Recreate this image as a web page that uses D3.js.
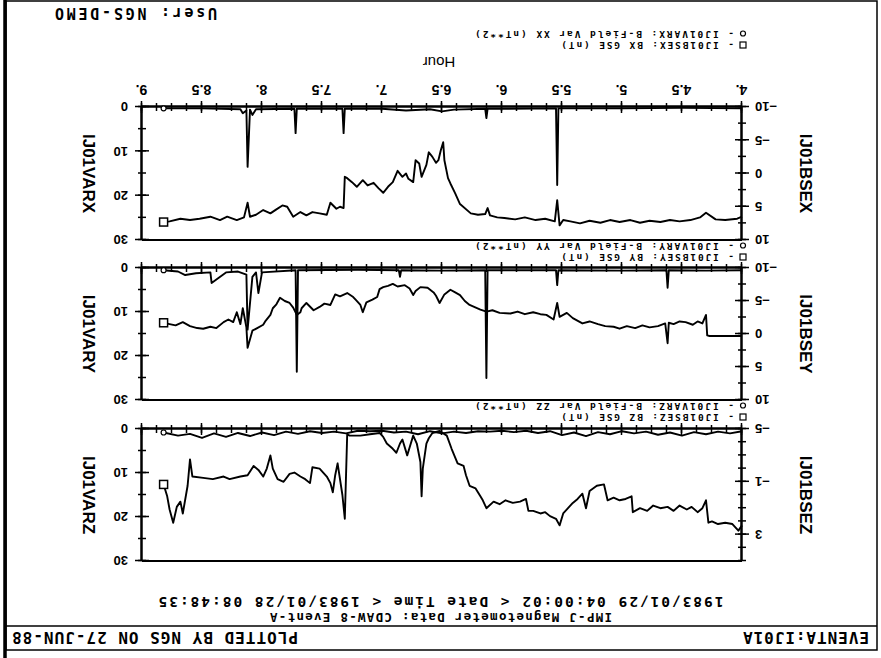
<!DOCTYPE html>
<meta charset="utf-8">
<style>
body { margin: 0; background: #fff; }
.domain { stroke: #000; stroke-width: 2; fill: none; }
.tick line { stroke: #000; stroke-width: 1.5; }
.tick text { font-family: "Liberation Sans", Arial, sans-serif; font-weight: bold; fill: #000; }
.trace { fill: none; stroke: #000; stroke-width: 1.9; stroke-linejoin: round; }
.mono { font-family: "DejaVu Sans Mono", monospace; font-weight: bold; fill: #000; }
.axtitle { font-family: "Liberation Sans", Arial, sans-serif; font-weight: bold; font-size: 17px; fill: #000; }
</style>
<body>
<script src="https://d3js.org/d3.v7.min.js"></script>
<script>
var width = 881
var height = 658

// hour axis
var hourMajor = [4, 4.5, 5, 5.5, 6, 6.5, 7, 7.5, 8, 8.5, 9]
var hourLabels = ['4.', '4.5', '5.', '5.5', '6.', '6.5', '7.', '7.5', '8.', '8.5', '9.']
var hourMinor = d3.range(4, 9.001, 0.125)

// [hour, nT]  BX GSE
var bsexData = [[4.00,6.5],[4.04,6.8],[4.14,7.0],[4.22,6.9],[4.30,5.9],[4.35,6.6],[4.43,7.0],[4.52,7.2],
  [4.60,7.0],[4.68,7.3],[4.77,7.1],[4.85,7.4],[4.93,7.0],[5.02,7.3],[5.10,7.0],[5.18,7.4],[5.27,7.1],
  [5.35,7.5],[5.43,7.2],[5.49,7.0],[5.52,7.8],[5.54,4.0],[5.56,7.2],[5.64,6.8],[5.72,7.0],[5.81,6.6],
  [5.89,6.9],[5.98,6.7],[6.04,6.6],[6.10,6.3],[6.12,5.2],[6.14,6.1],[6.20,6.2],[6.26,6.0],[6.35,4.6],
  [6.39,3.0],[6.43,1.5],[6.45,0.7],[6.48,-2.0],[6.49,-4.7],[6.51,-3.5],[6.53,-2.0],[6.55,-1.6],
  [6.58,-2.5],[6.61,-3.2],[6.63,-1.3],[6.67,0.5],[6.69,-1.5],[6.72,-2.0],[6.74,1.3],[6.78,0.8],
  [6.80,0.0],[6.83,0.5],[6.87,-0.4],[6.91,1.3],[6.95,2.0],[6.99,2.9],[7.03,2.2],[7.07,1.4],[7.12,1.8],
  [7.16,1.0],[7.21,2.0],[7.25,1.3],[7.29,0.7],[7.31,0.5],[7.32,5.2],[7.35,5.0],[7.38,5.3],[7.43,4.4],
  [7.46,6.2],[7.52,6.0],[7.58,5.8],[7.63,6.3],[7.68,5.8],[7.74,6.5],[7.79,5.0],[7.83,4.8],[7.88,5.4],
  [7.93,6.0],[7.99,5.5],[8.05,6.2],[8.10,6.5],[8.12,4.4],[8.15,6.6],[8.21,7.0],[8.29,6.5],[8.35,7.0],
  [8.43,6.5],[8.52,6.8],[8.60,7.0],[8.68,6.8],[8.77,7.2],[8.82,7.3]]

// [hour, nT**2]  B-Field Var XX
var varxData = [[4.00,0.3],[4.50,0.2],[5.00,0.3],[5.53,0.3],[5.54,17.6],[5.55,0.3],[6.00,0.4],[6.12,0.4],
  [6.13,2.5],[6.14,0.4],[6.40,0.6],[6.50,1.0],[6.60,0.5],[6.80,0.8],[7.00,0.4],[7.31,0.4],[7.32,5.9],
  [7.33,0.4],[7.71,0.4],[7.72,5.9],[7.73,0.4],[8.05,0.5],[8.08,1.8],[8.10,0.6],[8.12,13.5],[8.13,0.8],
  [8.16,1.4],[8.18,0.5],[8.50,0.3],[8.82,0.3]]

// [hour, nT]  BY GSE
var bseyData = [[4.00,0.3],[4.14,0.3],[4.27,0.3],[4.29,0.2],[4.30,-2.9],[4.33,-1.6],[4.37,-1.9],
  [4.41,-1.4],[4.47,-1.8],[4.52,-1.9],[4.57,-1.5],[4.61,-1.7],[4.62,1.4],[4.64,-1.6],[4.70,-1.2],
  [4.77,-1.0],[4.83,-1.3],[4.89,-0.9],[4.96,-1.2],[5.02,-0.8],[5.07,-1.1],[5.14,-1.2],[5.20,-1.5],
  [5.27,-1.9],[5.33,-1.6],[5.41,-2.4],[5.46,-3.2],[5.52,-2.6],[5.54,-4.7],[5.57,-2.2],[5.63,-2.9],
  [5.68,-3.0],[5.74,-3.3],[5.81,-3.0],[5.87,-3.4],[5.93,-3.1],[6.02,-3.2],[6.08,-3.6],[6.13,-3.4],
  [6.18,-3.7],[6.27,-4.4],[6.31,-5.0],[6.35,-5.9],[6.39,-6.3],[6.43,-6.7],[6.48,-6.0],[6.52,-4.7],
  [6.55,-5.8],[6.57,-6.3],[6.62,-7.0],[6.68,-7.1],[6.72,-6.5],[6.74,-5.9],[6.77,-6.9],[6.81,-7.4],
  [6.87,-7.2],[6.91,-7.6],[6.95,-7.3],[6.99,-7.1],[7.02,-6.8],[7.04,-5.6],[7.08,-5.2],[7.13,-4.8],
  [7.16,-3.3],[7.18,-4.4],[7.22,-5.2],[7.24,-5.6],[7.29,-6.2],[7.35,-5.7],[7.39,-6.0],[7.43,-4.4],
  [7.48,-4.6],[7.52,-4.1],[7.57,-3.6],[7.63,-4.7],[7.67,-3.9],[7.68,-3.3],[7.71,-2.9],[7.74,-4.0],
  [7.77,-4.7],[7.81,-5.0],[7.85,-5.5],[7.88,-4.5],[7.91,-3.9],[7.93,-2.9],[7.97,-2.0],[7.99,-1.4],
  [8.04,-0.9],[8.08,-0.5],[8.10,0.8],[8.12,2.1],[8.13,-1.0],[8.16,-3.9],[8.18,-1.5],[8.21,-3.3],
  [8.24,-1.8],[8.28,-2.2],[8.32,-1.8],[8.38,-0.9],[8.43,-1.1],[8.49,-0.8],[8.54,-0.9],[8.60,-1.2],
  [8.66,-1.8],[8.72,-1.3],[8.77,-1.5],[8.82,-1.7]]

// [hour, nT**2]  B-Field Var YY
var varyData = [[4.00,0.5],[4.30,0.6],[4.61,0.5],[4.62,4.5],[4.63,0.5],[5.00,0.6],[5.53,0.5],[5.54,3.9],
  [5.55,0.5],[6.00,0.5],[6.12,0.5],[6.13,25.0],[6.14,0.5],[6.50,0.6],[6.84,0.5],[6.85,2.0],[6.86,0.5],
  [7.20,0.4],[7.70,0.5],[7.71,23.6],[7.72,0.5],[8.00,1.0],[8.03,5.7],[8.05,1.0],[8.08,2.0],[8.12,14.0],
  [8.13,1.5],[8.20,0.8],[8.30,1.0],[8.42,3.4],[8.43,1.0],[8.55,1.2],[8.64,1.6],[8.70,0.8],[8.82,0.5]]

// [hour, nT]  BZ GSE
var bsezData = [[4.00,2.3],[4.03,2.7],[4.08,2.2],[4.14,2.1],[4.20,2.2],[4.25,2.0],[4.28,2.1],[4.30,0.4],
  [4.33,1.0],[4.37,1.3],[4.42,0.9],[4.46,1.1],[4.52,0.8],[4.57,1.2],[4.62,0.9],[4.68,1.0],[4.74,0.8],
  [4.79,1.2],[4.85,1.0],[4.91,1.3],[4.92,0.1],[4.97,0.3],[5.02,0.4],[5.07,0.2],[5.12,0.4],[5.15,-0.8],
  [5.21,-0.7],[5.27,-0.3],[5.30,1.0],[5.33,-0.1],[5.37,0.3],[5.41,0.6],[5.45,1.0],[5.49,1.4],[5.52,2.3],
  [5.55,1.8],[5.60,1.6],[5.64,1.3],[5.68,1.4],[5.74,1.2],[5.78,1.2],[5.80,0.3],[5.85,0.5],[5.91,0.6],
  [5.97,0.4],[6.02,0.7],[6.07,0.5],[6.13,1.0],[6.16,0.4],[6.18,0.1],[6.22,-0.5],[6.27,-0.7],[6.30,-1.5],
  [6.32,-2.2],[6.37,-2.4],[6.42,-3.5],[6.46,-4.5],[6.52,-4.85],[6.58,-4.7],[6.61,-4.3],[6.63,-3.9],
  [6.66,-2.0],[6.67,0.1],[6.68,-2.5],[6.71,-3.9],[6.74,-4.5],[6.77,-3.6],[6.79,-3.0],[6.83,-4.2],
  [6.85,-3.9],[6.88,-3.2],[6.91,-3.5],[6.96,-3.9],[6.99,-4.4],[7.02,-4.7],[7.10,-4.6],[7.18,-4.5],
  [7.27,-4.5],[7.29,-4.6],[7.31,1.8],[7.33,0.0],[7.37,-2.4],[7.39,-1.5],[7.41,-0.2],[7.43,-0.9],
  [7.46,-1.4],[7.52,-2.0],[7.58,-2.1],[7.60,-0.9],[7.64,-1.2],[7.68,-1.4],[7.73,-1.7],[7.77,-1.6],
  [7.82,-1.0],[7.87,-1.2],[7.91,-2.0],[7.93,-3.0],[7.96,-2.0],[7.99,-1.4],[8.03,-1.9],[8.07,-2.2],
  [8.12,-1.5],[8.18,-1.4],[8.27,-1.2],[8.32,-1.4],[8.41,-1.2],[8.49,-1.3],[8.58,-1.4],[8.60,-2.7],
  [8.62,-0.7],[8.66,1.4],[8.68,0.5],[8.71,0.9],[8.74,2.1],[8.77,1.1],[8.79,0.1],[8.82,-0.8]]

// [hour, nT**2]  B-Field Var ZZ
var varzData = [[4.0,0.5],[4.1,1.0],[4.2,0.6],[4.3,1.2],[4.4,0.7],[4.5,1.5],[4.6,0.8],[4.7,1.3],[4.8,0.6],
  [4.9,1.0],[5.0,0.5],[5.1,1.2],[5.2,0.7],[5.3,1.6],[5.4,0.8],[5.5,1.4],[5.6,0.5],[5.7,0.9],[5.8,0.4],
  [5.9,0.7],[6.0,0.4],[6.1,0.6],[6.2,0.5],[6.3,0.9],[6.4,0.6],[6.5,1.0],[6.6,0.5],[6.7,1.2],[6.8,0.6],
  [6.9,0.8],[7.0,0.4],[7.1,0.5],[7.2,0.4],[7.3,1.0],[7.4,0.6],[7.5,0.9],[7.6,0.5],[7.7,1.1],[7.8,0.6],
  [7.9,1.4],[8.0,0.8],[8.1,1.6],[8.2,0.9],[8.3,1.8],[8.4,1.0],[8.5,2.0],[8.6,1.1],[8.7,1.5],[8.82,0.8]]

var varMinor = [0, 5, 10, 15, 20, 25, 30]
var varMajor = [0, 10, 20, 30]

var x = d3.scaleLinear().domain([4, 9]).range([139, 739])

var panels = [
    { top: 97, bottom: 229, bse: bsezData, vr: varzData, dom: [-5, 5],
      minor: d3.range(-5, 5.01, 1), major: [-5, -1, 3],
      bseName: 'IJ01BSEZ', varName: 'IJ01VARZ',
      legBse: '- IJ01BSEZ:  BZ GSE (nT)', legVar: '- IJ01VARZ:  B-Field Var ZZ (nT**2)',
      legY: 244, hours: false },
    { top: 258, bottom: 390, bse: bseyData, vr: varyData, dom: [-10, 10],
      minor: d3.range(-10, 10.01, 2.5), major: [-10, -5, 0, 5, 10],
      bseName: 'IJ01BSEY', varName: 'IJ01VARY',
      legBse: '- IJ01BSEY:  BY GSE (nT)', legVar: '- IJ01VARY:  B-Field Var YY (nT**2)',
      legY: 404, hours: false },
    { top: 418, bottom: 551, bse: bsexData, vr: varxData, dom: [-10, 10],
      minor: d3.range(-10, 10.01, 2.5), major: [-10, -5, 0, 5, 10],
      bseName: 'IJ01BSEX', varName: 'IJ01VARX',
      legBse: '- IJ01BSEX:  BX GSE (nT)', legVar: '- IJ01VARX:  B-Field Var XX (nT**2)',
      legY: 616, hours: true }
]

var svg = d3.select('body').append('svg')
    .attr('width', width)
    .attr('height', height)

svg.append('rect').attr('width', width).attr('height', height).attr('fill', '#fff')

// the scanned page is upside down
var page = svg.append('g').attr('transform', 'rotate(180 440.5 329)')

// frame
page.append('rect').attr('x', 4).attr('y', 8).attr('width', 871).attr('height', 649)
    .attr('fill', 'none').attr('stroke', '#000').attr('stroke-width', 1.5)
page.append('line').attr('x1', 876).attr('x2', 876).attr('y1', 0).attr('y2', 658)
    .attr('stroke', '#000').attr('stroke-width', 3.5)
page.append('line').attr('x1', 4).attr('x2', 875).attr('y1', 32).attr('y2', 32)
    .attr('stroke', '#000').attr('stroke-width', 1.5)

function mono(txt, px, py, size, anchor, len) {
    var t = page.append('text').attr('class', 'mono')
        .attr('x', px).attr('y', py)
        .style('font-size', size + 'px')
        .attr('text-anchor', anchor)
        .text(txt)
    if (len) t.attr('textLength', len).attr('lengthAdjust', 'spacing')
    return t
}

mono('EVENTA:IJ01A', 12, 26, 16, 'start', 126)
mono('PLOTTED BY NGS  ON 27-JUN-88', 869, 26, 16, 'end', 286)
mono('IMP-J Magnetometer Data: CDAW-8 Event-A', 440, 45, 12.5, 'middle', 342)
mono('1983/01/29 04:00:02 < Date Time < 1983/01/28 08:48:35', 440, 61, 14.5, 'middle', 565)
mono('User:  NGS-DEMO', 664, 650, 15, 'start', 162)

panels.forEach(function (p) {
    var yB = d3.scaleLinear().domain(p.dom).range([p.bottom, p.top])
    var yV = d3.scaleLinear().domain([0, 30]).range([p.bottom, p.top])
    var g = page.append('g')

    g.append('line').attr('x1', 139).attr('x2', 739).attr('y1', p.top).attr('y2', p.top)
        .attr('stroke', '#000').attr('stroke-width', 2)

    // time axis, ticks crossing the line
    var tMin = g.append('g').attr('transform', 'translate(0,' + p.bottom + ')')
        .call(d3.axisBottom(x).tickValues(hourMinor).tickSizeOuter(0).tickFormat(''))
    tMin.selectAll('.tick line').attr('y1', -4).attr('y2', 4)
    var tMaj = g.append('g').attr('transform', 'translate(0,' + p.bottom + ')')
        .call(d3.axisBottom(x).tickValues(hourMajor).tickSizeOuter(0)
            .tickFormat(function (d, i) { return p.hours ? hourLabels[i] : '' }))
    tMaj.selectAll('.tick line').attr('y1', -6).attr('y2', 6)
    tMaj.selectAll('.tick text').attr('y', 12).attr('dy', '0.71em').style('font-size', '14px')

    // left: field component
    var lMin = g.append('g').attr('transform', 'translate(139,0)')
        .call(d3.axisLeft(yB).tickValues(p.minor).tickSizeOuter(0).tickFormat(''))
    lMin.selectAll('.tick line').attr('x1', -4).attr('x2', 4)
    var lMaj = g.append('g').attr('transform', 'translate(139,0)')
        .call(d3.axisLeft(yB).tickValues(p.major).tickSizeOuter(0).tickFormat(d3.format('d')))
    lMaj.selectAll('.tick line').attr('x1', -7).attr('x2', 7)
    lMaj.selectAll('.tick text').attr('x', -13).style('font-size', '13px')

    // right: variance
    var rMin = g.append('g').attr('transform', 'translate(739,0)')
        .call(d3.axisRight(yV).tickValues(varMinor).tickSizeOuter(0).tickFormat(''))
    rMin.selectAll('.tick line').attr('x1', -4).attr('x2', 4)
    var rMaj = g.append('g').attr('transform', 'translate(739,0)')
        .call(d3.axisRight(yV).tickValues(varMajor).tickSizeOuter(0).tickFormat(d3.format('d')))
    rMaj.selectAll('.tick line').attr('x1', -7).attr('x2', 7)
    rMaj.selectAll('.tick text').attr('x', 14).style('font-size', '13px')

    var mid = (p.top + p.bottom) / 2
    g.append('text').attr('class', 'axtitle')
        .attr('transform', 'translate(75,' + mid + ') rotate(-90)')
        .attr('text-anchor', 'middle').attr('dy', '0.35em').text(p.bseName)
    g.append('text').attr('class', 'axtitle')
        .attr('transform', 'translate(792,' + mid + ') rotate(-90)')
        .attr('text-anchor', 'middle').attr('dy', '0.35em').text(p.varName)

    var lineB = d3.line().x(function (d) { return x(d[0]) }).y(function (d) { return yB(d[1]) })
    var lineV = d3.line().x(function (d) { return x(d[0]) }).y(function (d) { return yV(d[1]) })
    g.append('path').attr('class', 'trace').attr('d', lineV(p.vr))
    g.append('path').attr('class', 'trace').attr('d', lineB(p.bse))

    var lastB = p.bse[p.bse.length - 1]
    var lastV = p.vr[p.vr.length - 1]
    g.append('rect').attr('x', x(lastB[0]) - 4).attr('y', yB(lastB[1]) - 4)
        .attr('width', 8).attr('height', 8)
        .attr('fill', '#fff').attr('stroke', '#000').attr('stroke-width', 1.5)
    g.append('circle').attr('cx', x(lastV[0])).attr('cy', yV(lastV[1])).attr('r', 2.5)
        .attr('fill', '#fff').attr('stroke', '#000').attr('stroke-width', 1.2)

    // legend below the panel
    g.append('rect').attr('x', 135).attr('y', p.legY - 6).attr('width', 6).attr('height', 6)
        .attr('fill', 'none').attr('stroke', '#000').attr('stroke-width', 1.2)
    g.append('circle').attr('cx', 138).attr('cy', p.legY + 8.5).attr('r', 2.5)
        .attr('fill', 'none').attr('stroke', '#000').attr('stroke-width', 1.2)
    mono(p.legBse, 147, p.legY, 9.5, 'start', p.legBse.length * 7.2)
    mono(p.legVar, 147, p.legY + 11.5, 9.5, 'start', p.legVar.length * 7.4)
})

page.append('text')
    .attr('x', 442).attr('y', 601)
    .attr('text-anchor', 'middle')
    .style('font-family', '"Liberation Sans", Arial, sans-serif')
    .style('font-size', '15px')
    .text('Hour')
</script>
</body>
